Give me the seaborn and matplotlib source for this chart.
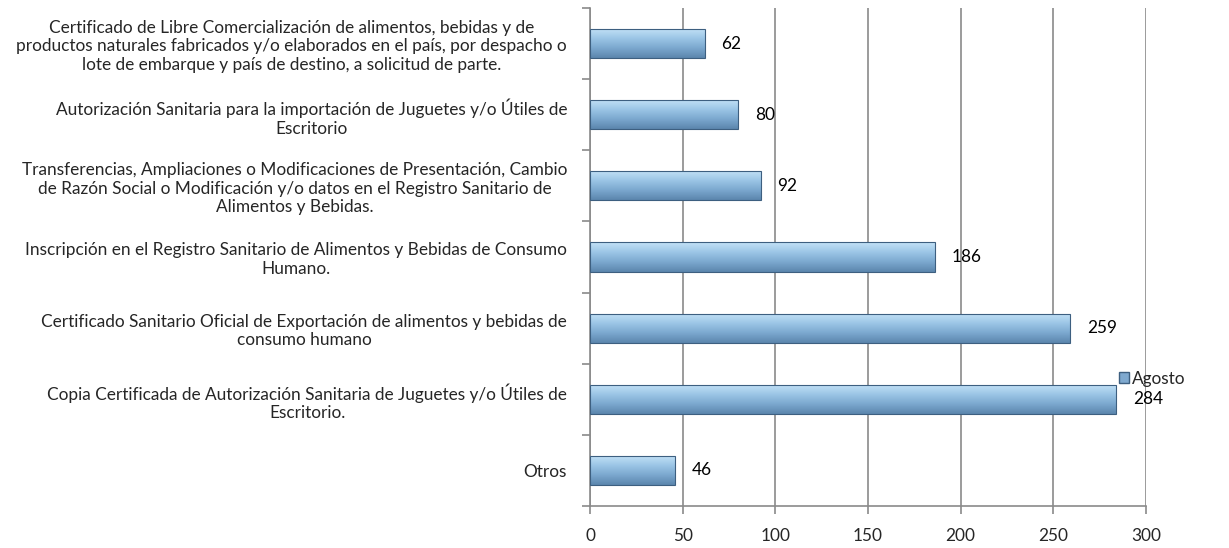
import numpy as np
import pandas as pd
import matplotlib
matplotlib.use("Agg")
import matplotlib.pyplot as plt
import seaborn as sns
from matplotlib.colors import LinearSegmentedColormap
from matplotlib.patches import Patch

categories = [
    "Certificado de Libre Comercialización de alimentos, bebidas y de\nproductos naturales fabricados y/o elaborados en el país, por despacho o\nlote de embarque y país de destino, a solicitud de parte.",
    "Autorización Sanitaria para la importación de Juguetes y/o Útiles de\nEscritorio",
    "Transferencias, Ampliaciones o Modificaciones de Presentación, Cambio\nde Razón Social o Modificación y/o datos en el Registro Sanitario de\nAlimentos y Bebidas.",
    "Inscripción en el Registro Sanitario de Alimentos y Bebidas de Consumo\nHumano.",
    "Certificado Sanitario Oficial de Exportación de alimentos y bebidas de\nconsumo humano",
    "Copia Certificada de Autorización Sanitaria de Juguetes y/o Útiles de\nEscritorio.",
    "Otros",
]
values = [62, 80, 92, 186, 259, 284, 46]
series_name = "Agosto"
xticks = [0, 50, 100, 150, 200, 250, 300]

df = pd.DataFrame({"cat": categories, "val": values})

sns.set_theme(style="white")
plt.rcParams["font.family"] = ["Lato", "DejaVu Sans"]
FS = 12.4

fig = plt.figure(figsize=(12.29, 5.48), dpi=100)
ax = fig.add_axes([590 / 1229, 1 - 506 / 548, (1146 - 590) / 1229, (506 - 8) / 548])

sns.barplot(data=df, y="cat", x="val", orient="h", width=0.41,
            color="#7fa9cf", edgecolor="#3d5f80", linewidth=0.8, ax=ax, zorder=3)

cmap = LinearSegmentedColormap.from_list("bev", ["#c4e2f7", "#9cc6e6", "#7ba8cf", "#5c86ad"])
grad = np.linspace(0, 1, 64).reshape(-1, 1)
for p in ax.patches:
    x0, y0 = p.get_x(), p.get_y()
    w, h = p.get_width(), p.get_height()
    im = ax.imshow(grad, cmap=cmap, aspect="auto", extent=[x0, x0 + w, y0 + h, y0],
                   zorder=3.5, interpolation="bilinear")
    im.set_clip_path(p)
    p.set_zorder(4)
    p.set_facecolor("none")

for i, v in enumerate(values):
    ax.text(v + 9, i, str(v), va="center", ha="left", fontsize=FS, color="#000000", zorder=5)

ax.set_xlim(0, 300)
ax.set_ylim(6.5, -0.5)
ax.set_xticks(xticks)
ax.set_xticklabels([str(t) for t in xticks], fontsize=FS)
ax.set_xlabel("")
ax.set_ylabel("")
ax.grid(axis="x", color="#8a8a8a", linewidth=1.2, zorder=0)
ax.grid(axis="y", visible=False)

for s in ["top", "right"]:
    ax.spines[s].set_visible(False)
for s in ["left", "bottom"]:
    ax.spines[s].set_color("#8a8a8a")
    ax.spines[s].set_linewidth(1.2)

ax.tick_params(axis="x", length=6, width=1.2, color="#8a8a8a", pad=10, bottom=True)
ax.tick_params(axis="y", which="major", length=0, pad=16.5)
ax.set_yticks(np.arange(-0.5, 7, 1), minor=True)
ax.tick_params(axis="y", which="minor", length=6, width=1.2, color="#8a8a8a", left=True)
for lbl in ax.get_yticklabels():
    lbl.set_multialignment("center")
    lbl.set_fontsize(FS)
    lbl.set_linespacing(1.2)

handle = Patch(facecolor="#7fa9cf", edgecolor="#3d5f80", label=series_name)
fig.legend(handles=[handle], loc="center left", bbox_to_anchor=(1103 / 1229, 1 - 379 / 548),
           frameon=False, fontsize=FS, handlelength=0.6, handleheight=0.6, handletextpad=0.2)

fig.savefig("out.png", dpi=100, facecolor="white")
